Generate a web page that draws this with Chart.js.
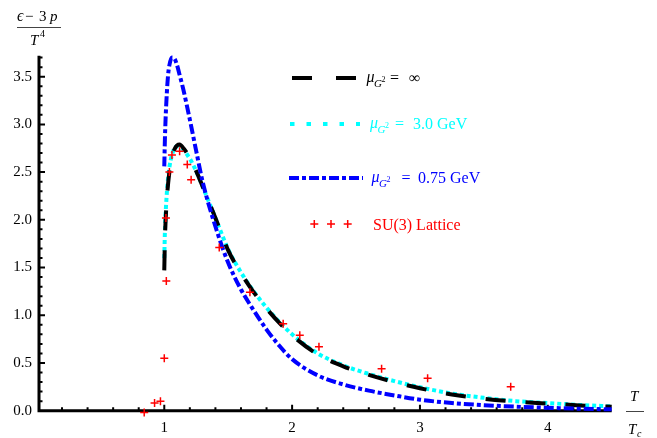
<!DOCTYPE html>
<html>
<head>
<meta charset="utf-8">
<script src="https://cdn.jsdelivr.net/npm/chart.js@4.4.1/dist/chart.umd.min.js"></script>
<style>
  html, body { margin: 0; padding: 0; background: #fff; }
</style>
</head>
<body>
<canvas id="chart" width="657" height="438"></canvas>
<script>
// ---- data ----
// T/Tc grid of the model curves
const tCurve = [1.0, 1.005, 1.01, 1.02, 1.03, 1.04, 1.06, 1.08, 1.1, 1.12, 1.15, 1.2, 1.25, 1.3,
                1.4, 1.5, 1.6, 1.7, 1.8, 1.9, 2.0, 2.2, 2.4, 2.6, 2.8, 3.0, 3.25, 3.5, 3.75, 4.0, 4.25, 4.5];
// mu_G2 = infinity
const yInf  = [1.47, 1.80, 1.98, 2.22, 2.38, 2.50, 2.65, 2.74, 2.78, 2.79, 2.75, 2.65, 2.51, 2.35,
               2.02, 1.68, 1.44, 1.24, 1.07, 0.92, 0.79, 0.59, 0.465, 0.375, 0.30, 0.235, 0.17, 0.125, 0.095, 0.075, 0.055, 0.04];
// mu_G2 = 3.0 GeV
const y30   = [1.60, 1.88, 2.05, 2.28, 2.44, 2.55, 2.68, 2.75, 2.77, 2.76, 2.73, 2.64, 2.51, 2.35,
               2.02, 1.69, 1.45, 1.25, 1.08, 0.93, 0.80, 0.60, 0.475, 0.385, 0.31, 0.245, 0.18, 0.135, 0.10, 0.08, 0.06, 0.045];
// mu_G2 = 0.75 GeV
const y075  = [2.56, 2.85, 3.05, 3.33, 3.52, 3.62, 3.70, 3.69, 3.62, 3.52, 3.36, 3.05, 2.72, 2.40,
               1.93, 1.55, 1.27, 1.05, 0.85, 0.68, 0.54, 0.37, 0.275, 0.21, 0.16, 0.115, 0.08, 0.058, 0.042, 0.03, 0.02, 0.014];
// SU(3) lattice points
const latT  = [0.843, 0.924, 0.97, 1.0, 1.016, 1.013, 1.04, 1.06, 1.12, 1.18, 1.21, 1.43, 1.67, 1.93, 2.06, 2.21, 2.70, 3.06, 3.71];
const latY  = [-0.02, 0.08, 0.10, 0.55, 1.36, 2.02, 2.50, 2.68, 2.72, 2.58, 2.42, 1.71, 1.24, 0.91, 0.79, 0.67, 0.44, 0.34, 0.25];

const xTicks = [1, 2, 3, 4];
const yTicks = [0, 0.5, 1.0, 1.5, 2.0, 2.5, 3.0, 3.5];
const xMin = 0.02, xMax = 4.5, yMin = -0.04, yMax = 3.72;

const pts = (xs, ys) => xs.map((v, i) => ({ x: v, y: ys[i] }));
const SERIF = '"Liberation Serif", "DejaVu Serif", serif';

// Mathematica-like axes through the origin, ticks pointing inwards
const axesPlugin = {
  id: 'mmaAxes',
  beforeDatasetsDraw(chart) {
    const { ctx, scales: { x, y } } = chart;
    const x0 = x.getPixelForValue(xMin), x1 = x.getPixelForValue(xMax);
    const y0 = y.getPixelForValue(0), yTop = y.getPixelForValue(yMax);
    ctx.save();
    ctx.strokeStyle = '#000';
    ctx.lineWidth = 3;
    ctx.beginPath();
    ctx.moveTo(x0 - 1.5, y0); ctx.lineTo(x1, y0);
    ctx.moveTo(x0, y0); ctx.lineTo(x0, yTop);
    ctx.stroke();

    ctx.lineWidth = 2;
    ctx.beginPath();
    for (let i = 1; i * 0.2 <= xMax + 1e-9; i++) {
      const px = x.getPixelForValue(i * 0.2);
      const len = i % 5 === 0 ? 6 : 3.5;
      ctx.moveTo(px, y0); ctx.lineTo(px, y0 - len);
    }
    for (let i = 1; i * 0.1 <= yMax + 1e-9; i++) {
      const py = y.getPixelForValue(i * 0.1);
      const len = i % 5 === 0 ? 6 : 3.5;
      ctx.moveTo(x0, py); ctx.lineTo(x0 + len, py);
    }
    ctx.stroke();

    ctx.fillStyle = '#000';
    ctx.font = '15px ' + SERIF;
    ctx.textAlign = 'right';
    ctx.textBaseline = 'middle';
    yTicks.forEach(v => ctx.fillText(v.toFixed(1), x0 - 7, y.getPixelForValue(v)));
    ctx.textAlign = 'center';
    xTicks.forEach(v => ctx.fillText(String(v), x.getPixelForValue(v), y0 + 17));

    // y title: (eps - 3p) / T^4
    ctx.textAlign = 'left';
    ctx.textBaseline = 'alphabetic';
    ctx.font = 'italic 16px ' + SERIF;
    ctx.fillText('\u03f5', 17, 21);
    ctx.font = '15px ' + SERIF;
    ctx.fillText('\u2212', 25, 21);
    ctx.fillText('3', 39, 21);
    ctx.font = 'italic 15px ' + SERIF;
    ctx.fillText('p', 50, 21);
    ctx.fillText('T', 30, 45);
    ctx.font = '10px ' + SERIF;
    ctx.fillText('4', 40, 37);
    ctx.lineWidth = 1;
    ctx.strokeStyle = '#444';
    ctx.beginPath(); ctx.moveTo(17, 27.5); ctx.lineTo(61, 27.5); ctx.stroke();

    // x title: T / Tc
    ctx.font = 'italic 15px ' + SERIF;
    ctx.fillText('T', 630, 401);
    ctx.fillText('T', 628, 434);
    ctx.font = 'italic 10px ' + SERIF;
    ctx.fillText('c', 637, 437);
    ctx.beginPath(); ctx.moveTo(626, 411.5); ctx.lineTo(644, 411.5); ctx.stroke();
    ctx.restore();
  }
};

// legend drawn as in the figure (samples + mu_{G^2} labels)
const legendItems = [
  { color: '#000', dash: [20, 24], x0: 292, x1: 358, y: 78, mu: 366.5, eq: 390, val: '\u221e', valX: 409 },
  { color: '#00ffff', dash: [4.5, 12], x0: 290, x1: 360, y: 124, mu: 370, eq: 395, val: '3.0 GeV', valX: 413 },
  { color: '#0000ff', dash: [10, 3, 4, 3], x0: 289, x1: 363, y: 178, mu: 371.5, eq: 401.5, val: '0.75 GeV', valX: 418 }
];

const legendPlugin = {
  id: 'mmaLegend',
  afterDatasetsDraw(chart) {
    const { ctx } = chart;
    ctx.save();
    legendItems.forEach(it => {
      ctx.strokeStyle = it.color;
      ctx.lineWidth = 4;
      ctx.setLineDash(it.dash);
      ctx.beginPath(); ctx.moveTo(it.x0, it.y); ctx.lineTo(it.x1, it.y); ctx.stroke();
      ctx.setLineDash([]);
      ctx.fillStyle = it.color;
      ctx.textBaseline = 'alphabetic';
      ctx.textAlign = 'left';
      ctx.font = 'italic 16px ' + SERIF;
      ctx.fillText('\u03bc', it.mu, it.y + 4);
      ctx.font = 'italic 11px ' + SERIF;
      ctx.fillText('G', it.mu + 7.5, it.y + 9);
      ctx.font = '8px ' + SERIF;
      ctx.fillText('2', it.mu + 15, it.y + 4);
      ctx.font = '16px ' + SERIF;
      ctx.fillText('=', it.eq, it.y + 5);
      ctx.fillText(it.val, it.valX, it.y + 5);
    });
    // lattice entry
    ctx.strokeStyle = '#ff0000';
    ctx.lineWidth = 1.5;
    ctx.beginPath();
    [314.3, 331, 347.7].forEach(cx => {
      ctx.moveTo(cx - 4, 224); ctx.lineTo(cx + 4, 224);
      ctx.moveTo(cx, 220); ctx.lineTo(cx, 228);
    });
    ctx.stroke();
    ctx.fillStyle = '#ff0000';
    ctx.font = '16px ' + SERIF;
    ctx.fillText('SU(3) Lattice', 373, 229.5);
    ctx.restore();
  }
};

new Chart(document.getElementById('chart'), {
  type: 'scatter',
  data: {
    datasets: [
      { label: 'SU(3) Lattice', data: pts(latT, latY), pointStyle: 'cross', pointRadius: 4,
        borderColor: '#ff0000', backgroundColor: '#ff0000', borderWidth: 1.5, order: 0 },
      { label: 'mu = 0.75 GeV', data: pts(tCurve, y075), showLine: true, pointRadius: 0,
        borderColor: '#0000ff', borderWidth: 4, borderDash: [10, 3, 4, 3],
        cubicInterpolationMode: 'monotone', order: 1 },
      { label: 'mu = inf', data: pts(tCurve, yInf), showLine: true, pointRadius: 0,
        borderColor: '#000000', borderWidth: 4, borderDash: [20, 20],
        cubicInterpolationMode: 'monotone', order: 2 },
      { label: 'mu = 3.0 GeV', data: pts(tCurve, y30), showLine: true, pointRadius: 0,
        borderColor: '#00ffff', borderWidth: 4, borderDash: [4, 3],
        cubicInterpolationMode: 'monotone', order: 3 }
    ]
  },
  options: {
    responsive: false,
    animation: false,
    clip: false,
    layout: { padding: { left: 39, right: 45.3, top: 55.7, bottom: 23.5 } },
    scales: {
      x: { type: 'linear', min: xMin, max: xMax, display: false },
      y: { type: 'linear', min: yMin, max: yMax, display: false }
    },
    plugins: { legend: { display: false }, tooltip: { enabled: false } }
  },
  plugins: [axesPlugin, legendPlugin]
});
</script>
</body>
</html>
